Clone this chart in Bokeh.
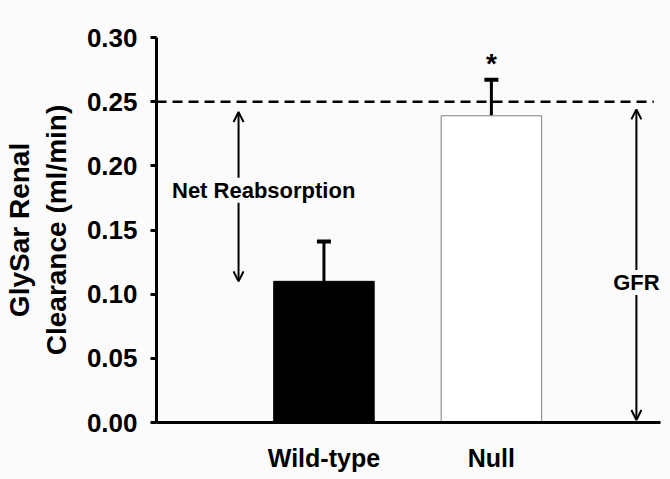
from bokeh.plotting import figure
from bokeh.models import (Range1d, FixedTicker, Whisker, TeeHead, Arrow, OpenHead,
                          Label, ColumnDataSource, NumeralTickFormatter)
from bokeh.embed import file_html
from bokeh.resources import INLINE

# ---- data ----
categories = ["Wild-type", "Null"]
means = [0.110, 0.239]
sems = [0.031, 0.028]
gfr = 0.25
y_ticks = [0.00, 0.05, 0.10, 0.15, 0.20, 0.25, 0.30]
y_label = "GlySar Renal\nClearance (ml/min)"

FONT = "Liberation Sans"
BG = "#fbfbfb"

xs = [1, 2]
p = figure(width=670, height=479, output_backend="svg", toolbar_location=None,
           x_range=Range1d(0, 3.01), y_range=Range1d(0, 0.30),
           min_border_left=156, min_border_right=10, min_border_top=37,
           min_border_bottom=57, background_fill_color=BG, border_fill_color=BG)
p.outline_line_color = None
p.grid.visible = False

src = ColumnDataSource(dict(
    x=xs, top=means, upper=[m + s for m, s in zip(means, sems)],
    fill=["black", "white"], line=["black", "#808080"]))

# GFR dashed reference line
p.line(x=[0, 2.97], y=[gfr, gfr], line_dash="10 6", line_width=2.5, color="black")

p.vbar(x="x", top="top", width=0.6, source=src, fill_color="fill",
       line_color="line", line_width=1)

p.add_layout(Whisker(source=src, base="x", lower="top", upper="upper",
                     dimension="height", line_width=3, line_color="black",
                     lower_head=None,
                     upper_head=TeeHead(size=14, line_width=4, line_color="black")))

# arrows
p.add_layout(Arrow(x_start=0.49, y_start=means[0], x_end=0.49, y_end=gfr - 0.008,
                   line_width=2, start=OpenHead(size=10, line_width=2),
                   end=OpenHead(size=10, line_width=2)))
p.add_layout(Arrow(x_start=2.866, y_start=0.002, x_end=2.866, y_end=gfr - 0.006,
                   line_width=2, start=OpenHead(size=10, line_width=2),
                   end=OpenHead(size=10, line_width=2)))

p.add_layout(Label(x=0.64, y=0.181, text="Net Reabsorption", text_align="center",
                   text_baseline="middle", text_font=FONT, text_font_size="22px",
                   text_font_style="bold", text_color="black",
                   background_fill_color=BG))
p.add_layout(Label(x=2.866, y=0.109, text="GFR", text_align="center",
                   text_baseline="middle", text_font=FONT, text_font_size="22px",
                   text_font_style="bold", text_color="black",
                   background_fill_color=BG))
p.add_layout(Label(x=2, y=means[1] + sems[1], y_offset=16, text="*",
                   text_align="center", text_baseline="middle", text_font=FONT,
                   text_font_size="28px", text_font_style="bold", text_color="black"))

# axes
ya = p.yaxis[0]
ya.ticker = FixedTicker(ticks=y_ticks)
ya.formatter = NumeralTickFormatter(format="0.00")
ya.axis_label = y_label
ya.axis_label_text_font = FONT
ya.axis_label_text_font_size = "28px"
ya.axis_label_text_font_style = "bold"
ya.axis_label_text_color = "black"
ya.axis_label_standoff = 12
ya.major_label_text_font = FONT
ya.major_label_text_font_size = "26px"
ya.major_label_text_font_style = "bold"
ya.major_label_text_color = "black"
ya.major_label_standoff = 13
ya.major_tick_out = 6
ya.major_tick_in = 0
ya.major_tick_line_width = 3
ya.minor_tick_line_color = None
ya.axis_line_width = 3
ya.axis_line_color = "black"

xa = p.xaxis[0]
xa.ticker = FixedTicker(ticks=xs)
xa.major_label_overrides = {x: c for x, c in zip(xs, categories)}
xa.major_label_text_font = FONT
xa.major_label_text_font_size = "25px"
xa.major_label_text_font_style = "bold"
xa.major_label_text_color = "black"
xa.major_label_standoff = 15
xa.major_tick_line_color = None
xa.minor_tick_line_color = None
xa.axis_line_width = 3
xa.axis_line_color = "black"

open("out.html", "w").write(file_html(p, INLINE))
